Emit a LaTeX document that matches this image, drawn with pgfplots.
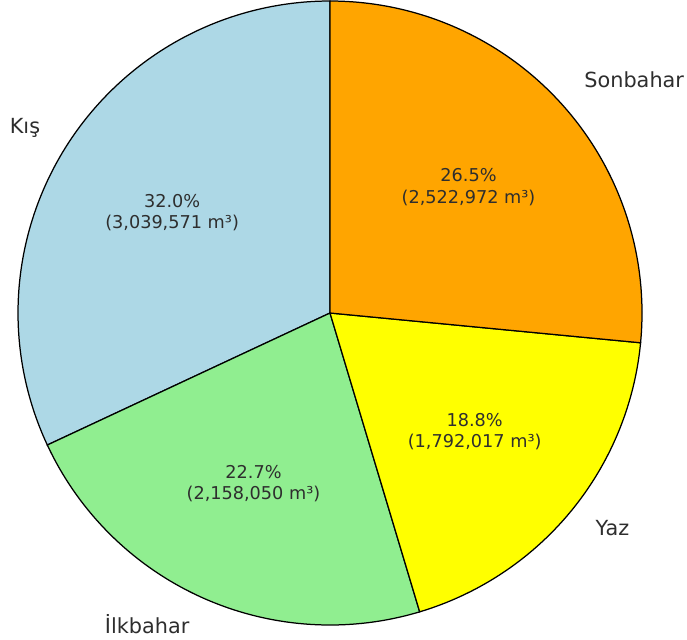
\documentclass[border=0pt]{standalone}
\usepackage{fontspec}
\setmainfont{DejaVu Sans}
\usepackage{pgfplots}
\pgfplotsset{compat=1.18}

\definecolor{kis}{HTML}{ADD8E6}
\definecolor{ilkbahar}{HTML}{90EE90}
\definecolor{yaz}{HTML}{FFFF00}
\definecolor{sonbahar}{HTML}{FFA500}
\colorlet{txt}{black!82}

% seasonal volumes, thousands of m^3
\def\vKis{3039.571}
\def\vIlk{2158.050}
\def\vYaz{1792.017}
\def\vSon{2522.972}

\begin{document}
\begin{tikzpicture}[
  pct/.style={font=\fontsize{8.5}{10.2}\selectfont, text=txt, align=center, inner sep=0pt},
  lab/.style={font=\fontsize{10}{12}\selectfont, text=txt, inner sep=0pt, text depth=0.24em},
]
\pgfmathsetmacro{\tot}{\vKis+\vIlk+\vYaz+\vSon}
\pgfmathsetmacro{\aA}{90}
\pgfmathsetmacro{\aB}{\aA+360*(\vKis/\tot)}
\pgfmathsetmacro{\aC}{\aB+360*(\vIlk/\tot)}
\pgfmathsetmacro{\aD}{\aC+360*(\vYaz/\tot)}
\pgfmathsetmacro{\aE}{450}
\pgfmathsetmacro{\mA}{(\aA+\aB)/2}
\pgfmathsetmacro{\mB}{(\aB+\aC)/2}
\pgfmathsetmacro{\mC}{(\aC+\aD)/2}
\pgfmathsetmacro{\mD}{(\aD+\aE)/2}
\begin{axis}[
  hide axis, scale only axis,
  width=300pt, height=300pt,
  xmin=-1, xmax=1, ymin=-1, ymax=1,
  clip=false,
  every axis plot/.append style={draw=black, line width=0.6pt, samples=120, variable=\t},
]
\addplot[fill=kis, domain=\aA:\aB] ({cos(\t)},{sin(\t)}) -- (axis cs:0,0) -- cycle;
\addplot[fill=ilkbahar, domain=\aB:\aC] ({cos(\t)},{sin(\t)}) -- (axis cs:0,0) -- cycle;
\addplot[fill=yaz, domain=\aC:\aD] ({cos(\t)},{sin(\t)}) -- (axis cs:0,0) -- cycle;
\addplot[fill=sonbahar, domain=\aD:\aE] ({cos(\t)},{sin(\t)}) -- (axis cs:0,0) -- cycle;

\node[pct] at (axis cs:{0.6*cos(\mA)},{0.6*sin(\mA)}) {32.0\%\\(3,039,571 m³)};
\node[pct] at (axis cs:{0.6*cos(\mB)},{0.6*sin(\mB)}) {22.7\%\\(2,158,050 m³)};
\node[pct] at (axis cs:{0.6*cos(\mC)},{0.6*sin(\mC)}) {18.8\%\\(1,792,017 m³)};
\node[pct] at (axis cs:{0.6*cos(\mD)},{0.6*sin(\mD)}) {26.5\%\\(2,522,972 m³)};

\node[lab, anchor=east] at (axis cs:{1.1*cos(\mA)},{1.1*sin(\mA)}) {Kış};
\node[lab, anchor=east] at (axis cs:{1.1*cos(\mB)},{1.1*sin(\mB)}) {İlkbahar};
\node[lab, anchor=west] at (axis cs:{1.1*cos(\mC)},{1.1*sin(\mC)}) {Yaz};
\node[lab, anchor=west] at (axis cs:{1.1*cos(\mD)},{1.1*sin(\mD)}) {Sonbahar};

\coordinate (BL) at (axis cs:-1.0577,-1.0449);
\coordinate (TR) at (axis cs:1.1442,1.0032);
\end{axis}
\pgfresetboundingbox
\path[use as bounding box] (BL) rectangle (TR);
\end{tikzpicture}
\end{document}
